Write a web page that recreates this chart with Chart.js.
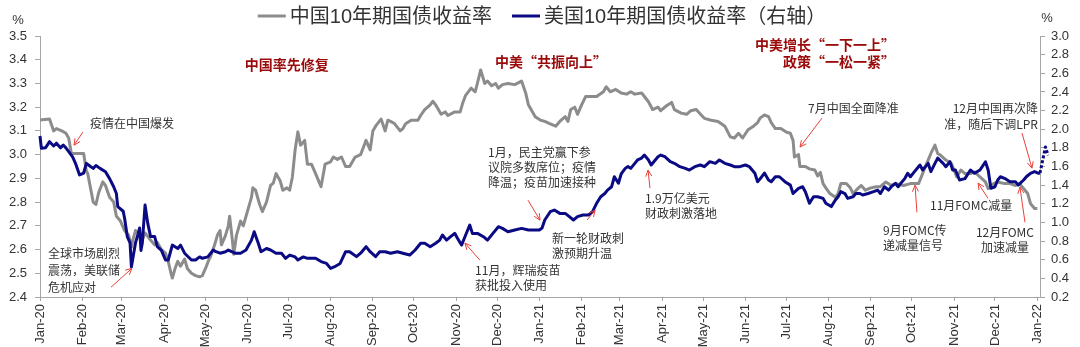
<!DOCTYPE html>
<html>
<head>
<meta charset="utf-8">
<script src="https://cdn.jsdelivr.net/npm/chart.js@4.4.1/dist/chart.umd.min.js"></script>
<style>
  html, body { margin: 0; padding: 0; background: #fff; }
  canvas { display: block; }
</style>
</head>
<body>
<canvas id="chart" width="1080" height="347"></canvas>
<script>
// days counted from 2020-01-01
const monthLabels = ['Jan-20','Feb-20','Mar-20','Apr-20','May-20','Jun-20','Jul-20','Aug-20','Sep-20','Oct-20','Nov-20','Dec-20',
  'Jan-21','Feb-21','Mar-21','Apr-21','May-21','Jun-21','Jul-21','Aug-21','Sep-21','Oct-21','Nov-21','Dec-21','Jan-22'];
const X_END = 733;

const cnLabel = '中国10年期国债收益率';
const cnDay = [
  0,7,10,12,16,19,21,23,32,34, 35,37,39,41,43,46,48,51,54,56, 59,62,65,67,68,70,73,75,77,81,
  84,86,89,92,94,96,97,99,101,103, 106,108,111,114,117,119,122,124,125,128, 130,132,133,136,138,139,141,142,144,147,
  149,152,155,156,158,161,163,166,169,171, 173,176,178,181,183,185,187,189,191,194, 196,199,202,206,209,213,215,218,221,224,
  227,231,235,237,239,242,244,246,250,253, 255,257,260,264,266,268,272,277,279,282, 286,288,290,294,297,299,304,308,310,312,
  316,319,321,323,326,328,331,334,336,339, 343,348,353,356,358,363,367,370,374,378, 381,385,387,389,392,394,397,400,404,408,
  413,415,418,422,426,430,433,436,441,443, 446,449,453,455,459,463,465,470,474,477, 481,485,487,492,497,502,506,509,512,515,
  519,523,526,528,531,534,536,539,543,547, 550,552,553,556,557,561,564,568,570,572, 574,576,579,583,585,587,591,594,596,600,
  602,605,609,613,616,620,624,627,633,638, 641,644,646,649,651,653,656,658,660,664, 668,672,675,678,682,685,689,693,695,699,
  702,707,711,715,718,722,724,726,729,731
];
const cnYield = [
  3.146,3.15,3.10,3.11,3.10,3.09,3.07,3.005,3.005,2.93, 2.92,2.86,2.80,2.79,2.84,2.885,2.87,2.82,2.80,2.74, 2.72,2.68,2.66,2.61,2.64,2.68,2.66,2.64,2.67,2.64,
  2.62,2.63,2.60,2.585,2.55,2.50,2.48,2.52,2.55,2.53, 2.56,2.52,2.50,2.49,2.485,2.49,2.53,2.56,2.57,2.62, 2.66,2.68,2.62,2.66,2.70,2.74,2.64,2.58,2.66,2.72,
  2.70,2.76,2.82,2.86,2.85,2.79,2.76,2.80,2.87,2.88, 2.92,2.89,2.85,2.86,2.85,2.906,3.02,3.096,3.04,3.06, 2.96,2.96,2.92,2.865,2.96,2.97,2.99,2.98,2.99,2.95,
  2.95,2.99,3.00,3.03,3.06,3.02,3.10,3.12,3.15,3.10, 3.145,3.14,3.13,3.10,3.11,3.13,3.145,3.145,3.165,3.19, 3.21,3.225,3.21,3.17,3.18,3.165,3.18,3.18,3.22,3.25,
  3.28,3.265,3.31,3.357,3.30,3.31,3.29,3.30,3.28,3.295, 3.30,3.295,3.31,3.26,3.21,3.16,3.145,3.14,3.13,3.12, 3.14,3.16,3.14,3.19,3.20,3.17,3.21,3.245,3.245,3.245,
  3.265,3.286,3.265,3.275,3.26,3.255,3.265,3.255,3.26,3.245, 3.223,3.19,3.20,3.185,3.205,3.22,3.19,3.175,3.17,3.185, 3.19,3.165,3.153,3.145,3.14,3.12,3.075,3.07,3.09,3.07,
  3.105,3.12,3.135,3.155,3.167,3.16,3.135,3.11,3.11,3.095, 3.09,3.06,2.99,3.00,2.95,2.95,2.94,2.935,2.91,2.925, 2.878,2.86,2.836,2.82,2.836,2.878,2.878,2.86,2.836,2.86,
  2.87,2.85,2.86,2.865,2.865,2.885,2.87,2.878,2.87,2.878, 2.878,2.878,2.906,2.95,2.977,3.005,3.04,3.005,2.998,2.977, 2.963,2.906,2.935,2.92,2.92,2.927,2.906,2.885,2.857,2.878,
  2.885,2.878,2.878,2.87,2.878,2.85,2.836,2.794,2.773,2.773
];

const usLabel = '美国10年期国债收益率（右轴）';
const usDay = [
  0,1,4,7,10,12,15,17,19,22, 24,26,29,32,34,37,39,41,44,48, 51,54,56,57,61,62,64,66,67,70,
  72,73,74,75,77,79,81,84,86,89, 92,94,97,101,103,106,111,114,117,119, 123,127,129,132,136,138,143,147,151,155,
  157,160,162,166,169,173,177,180,183,187, 189,193,196,202,206,210,213,216,220,224, 227,232,235,239,242,246,249,253,257,262,
  266,271,275,279,282,286,290,293,295,298, 301,304,306,309,312,315,317,321,325,328, 332,336,339,343,348,353,358,364,366,368,
  370,374,377,381,385,388,391,394,398,402, 405,408,411,414,416,419,421,424,426,429, 431,433,436,438,441,443,446,448,451,453,
  455,458,462,465,469,473,476,480,484,487, 491,495,498,502,506,509,513,517,520,524, 526,528,531,534,536,539,542,546,550,552,
  556,559,561,564,567,570,574,576,580,583, 585,587,590,592,596,598,601,603,607,611, 614,616,619,622,624,627,629,631,634,636,
  638,641,645,647,651,653,656,658,662,664, 667,669,671,674,678,682,685,689,693,695, 697,700,702,704,707,711,715,717,721,723,
  726,729,732,733,737,739
];
const usYield = [
  1.927,1.795,1.80,1.866,1.82,1.85,1.80,1.83,1.80,1.74, 1.70,1.634,1.51,1.53,1.634,1.60,1.58,1.61,1.58,1.544, 1.47,1.383,1.31,1.17,1.12,1.044,0.847,0.78,0.524,0.78,
  0.883,0.94,0.70,0.78,1.187,0.99,0.85,0.85,0.74,0.70, 0.597,0.597,0.757,0.72,0.757,0.67,0.597,0.597,0.63,0.615, 0.63,0.704,0.686,0.67,0.686,0.704,0.67,0.67,0.704,0.81,
  0.90,0.776,0.686,0.72,0.704,0.67,0.67,0.615,0.65,0.63, 0.597,0.63,0.615,0.615,0.58,0.56,0.507,0.525,0.56,0.686, 0.686,0.633,0.67,0.74,0.686,0.633,0.686,0.686,0.67,0.686,
  0.67,0.65,0.704,0.776,0.776,0.74,0.776,0.81,0.865,0.81, 0.847,0.883,0.83,0.757,0.865,0.972,0.88,0.88,0.847,0.81, 0.883,0.954,0.936,0.90,0.918,0.936,0.918,0.918,0.918,0.94,
  1.026,1.115,1.133,1.097,1.097,1.062,1.026,1.062,1.08,1.08, 1.115,1.205,1.276,1.31,1.347,1.383,1.49,1.42,1.52,1.58, 1.60,1.58,1.634,1.67,1.69,1.723,1.67,1.616,1.67,1.705,
  1.723,1.705,1.652,1.634,1.598,1.58,1.562,1.598,1.616,1.598, 1.652,1.634,1.67,1.634,1.616,1.598,1.598,1.616,1.598,1.527, 1.437,1.47,1.53,1.455,1.437,1.49,1.49,1.437,1.40,1.31,
  1.366,1.383,1.33,1.205,1.276,1.276,1.258,1.205,1.17,1.24, 1.276,1.33,1.31,1.258,1.276,1.31,1.31,1.294,1.31,1.33, 1.347,1.31,1.383,1.347,1.383,1.42,1.383,1.42,1.473,1.527,
  1.49,1.545,1.616,1.562,1.634,1.545,1.634,1.69,1.634,1.598, 1.652,1.562,1.562,1.455,1.47,1.562,1.527,1.562,1.65,1.562, 1.366,1.383,1.455,1.49,1.473,1.437,1.437,1.40,1.455,1.49,
  1.527,1.545,1.527,1.53,1.81,1.72
];

// text notes, placed in [day, left-axis value]
const notes = [
  { lines: ['中国率先修复'], at: [150, 3.378], head: true },
  { lines: ['中美“共振向上”'], at: [333.5, 3.39], head: true },
  { lines: ['中美增长“一下一上”', '政策“一松一紧”'], at: [626.7, 3.462], head: true, align: 'right', lh: 17 },
  { lines: ['疫情在中国爆发'], at: [36.7, 3.133] },
  { lines: ['全球市场剧烈', '震荡，美联储', '危机应对'], at: [5.9, 2.584], lh: 17 },
  { lines: ['1月，民主党赢下参', '议院多数席位；疫情', '降温；疫苗加速接种'], at: [328.4, 3.011] },
  { lines: ['11月，辉瑞疫苗', '获批投入使用'], at: [318.9, 2.513] },
  { lines: ['新一轮财政刺', '激预期升温'], at: [375.3, 2.648] },
  { lines: ['1.9万亿美元', '财政刺激落地'], at: [443.5, 2.816] },
  { lines: ['7月中国全面降准'], at: [563, 3.196] },
  { lines: ['12月中国再次降', '准，随后下调LPR'], at: [731.5, 3.196], align: 'right', lh: 16 },
  { lines: ['9月FOMC传', '递减量信号'], at: [618, 2.681] },
  { lines: ['11月FOMC减量'], at: [652.4, 2.787] },
  { lines: ['12月FOMC', '加速减量'], at: [707.3, 2.673], align: 'center' }
];
// arrows [fromDay, fromVal, toDay, toVal] on the left axis
const arrows = [
  [31.5, 3.095, 24.9, 3.040],
  [52.0, 2.441, 67.4, 2.521],
  [357.7, 2.808, 366.5, 2.724],
  [322.5, 2.555, 311.5, 2.627],
  [401, 2.724, 406.9, 2.766],
  [447.1, 2.859, 445.7, 2.935],
  [573.2, 3.154, 557.1, 3.032],
  [719.8, 3.091, 727.1, 2.943],
  [642.8, 2.757, 641.4, 2.871],
  [694.9, 2.816, 687.6, 2.880],
  [722, 2.715, 718.3, 2.863]
];

const FONT = "'Liberation Sans', 'Noto Sans CJK SC', sans-serif";
const CJK = "'Noto Sans CJK SC', 'Liberation Sans', sans-serif";
const GRAY = '#8c8c8c';
const BLUE = '#0a0a84';
const AXIS = '#a6a6a6';
const TXT = '#333333';
const RED = '#e8403a';

const monthDays = monthLabels.map((_, i) => (Date.UTC(2020, i, 1) - Date.UTC(2020, 0, 1)) / 86400000);

function drawArrow(ctx, x0, y0, x1, y1) {
  ctx.beginPath();
  ctx.moveTo(x0, y0);
  ctx.lineTo(x1, y1);
  ctx.stroke();
  const a = Math.atan2(y1 - y0, x1 - x0), L = 7, s = 0.45;
  ctx.beginPath();
  ctx.moveTo(x1 - L * Math.cos(a - s), y1 - L * Math.sin(a - s));
  ctx.lineTo(x1, y1);
  ctx.lineTo(x1 - L * Math.cos(a + s), y1 - L * Math.sin(a + s));
  ctx.stroke();
}

const extras = {
  id: 'extras',
  afterDraw(chart) {
    const { ctx, chartArea, scales: { x, y } } = chart;
    ctx.save();

    // legend on top
    ctx.font = `20px ${FONT}`;
    const items = chart.data.datasets.map(ds => ({ text: ds.label, color: ds.borderColor, w: ctx.measureText(ds.label).width }));
    const lineLen = 28, gap = 4, itemGap = 20;
    const total = items.reduce((s, it) => s + lineLen + gap + it.w, 0) + itemGap * (items.length - 1);
    let lx = chart.width / 2 + 2 - total / 2;
    items.forEach(it => {
      ctx.strokeStyle = it.color;
      ctx.lineWidth = 3;
      ctx.beginPath();
      ctx.moveTo(lx, 16);
      ctx.lineTo(lx + lineLen, 16);
      ctx.stroke();
      ctx.fillStyle = TXT;
      ctx.textAlign = 'left';
      ctx.textBaseline = 'middle';
      ctx.fillText(it.text, lx + lineLen + gap, 17);
      lx += lineLen + gap + it.w + itemGap;
    });

    // unit marks
    ctx.font = `13px ${FONT}`;
    ctx.textAlign = 'center';
    ctx.fillText('%', chartArea.left - 22, chartArea.top - 16);
    ctx.fillText('%', chartArea.right + 7, chartArea.top - 18);

    // notes
    notes.forEach(n => {
      ctx.font = n.head ? `bold 14px ${CJK}` : `12px ${CJK}`;
      ctx.fillStyle = n.head ? '#9b0a0a' : TXT;
      ctx.textAlign = n.align || 'left';
      ctx.textBaseline = 'middle';
      const px = x.getPixelForValue(n.at[0]);
      const py = y.getPixelForValue(n.at[1]);
      n.lines.forEach((t, i) => ctx.fillText(t, px, py + i * (n.lh || 15)));
    });

    ctx.strokeStyle = RED;
    ctx.lineWidth = 1;
    arrows.forEach(a => drawArrow(ctx,
      x.getPixelForValue(a[0]), y.getPixelForValue(a[1]),
      x.getPixelForValue(a[2]), y.getPixelForValue(a[3])));
    ctx.restore();
  }
};

const tickFont = { family: FONT, size: 13 };

new Chart(document.getElementById('chart'), {
  type: 'line',
  data: {
    datasets: [
      {
        label: cnLabel,
        data: cnDay.map((d, i) => ({ x: d, y: cnYield[i] })),
        yAxisID: 'y',
        borderColor: GRAY,
        backgroundColor: GRAY,
        borderWidth: 3,
        pointRadius: 0,
        order: 1
      },
      {
        label: usLabel,
        data: usDay.map((d, i) => ({ x: d, y: usYield[i] })),
        yAxisID: 'y1',
        borderColor: BLUE,
        backgroundColor: BLUE,
        borderWidth: 3,
        pointRadius: 0,
        order: 0,
        clip: { left: 2, top: 2, right: 14, bottom: 2 },
        segment: { borderDash: c => (c.p1.parsed.x > X_END ? [3, 2] : undefined) }
      }
    ]
  },
  options: {
    responsive: false,
    animation: false,
    layout: { padding: { top: 36, left: 0, right: 0, bottom: 0 } },
    elements: { line: { tension: 0, borderJoinStyle: 'round' } },
    plugins: { legend: { display: false }, tooltip: { enabled: false } },
    scales: {
      x: {
        type: 'linear',
        bounds: 'data',
        afterDataLimits: s => { s.min = 0; s.max = X_END; },
        afterBuildTicks: s => { s.ticks = monthDays.map(v => ({ value: v })); },
        afterFit: s => { s.height = 50; },
        ticks: {
          autoSkip: false, minRotation: 90, maxRotation: 90, padding: 3,
          color: TXT, font: tickFont,
          callback: (v, i) => monthLabels[i]
        },
        grid: { drawOnChartArea: false, drawTicks: true, tickLength: 4, color: AXIS },
        border: { display: true, color: AXIS, width: 1 }
      },
      y: {
        type: 'linear',
        position: 'left',
        min: 2.4, max: 3.5,
        afterFit: s => { s.width = 40; },
        ticks: { stepSize: 0.1, padding: 8, color: TXT, font: tickFont, callback: v => v.toFixed(1) },
        grid: { drawOnChartArea: false, drawTicks: true, tickLength: 5, color: AXIS },
        border: { display: true, color: AXIS, width: 1 }
      },
      y1: {
        type: 'linear',
        position: 'right',
        min: 0.2, max: 3.0,
        afterFit: s => { s.width = 40; },
        ticks: { stepSize: 0.2, padding: 6, color: TXT, font: tickFont, callback: v => v.toFixed(1) },
        grid: { drawOnChartArea: false, drawTicks: true, tickLength: 5, color: AXIS },
        border: { display: true, color: AXIS, width: 1 }
      }
    }
  },
  plugins: [extras]
});
</script>
</body>
</html>
